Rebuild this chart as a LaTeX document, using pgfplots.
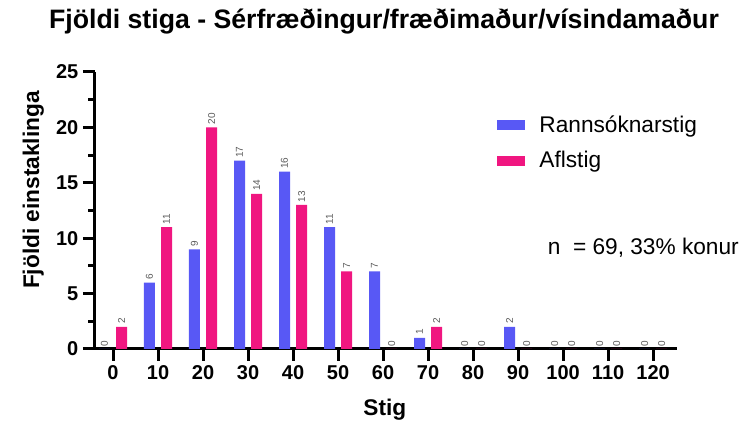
\documentclass[border=0pt]{standalone}
\usepackage{fontspec}
\setmainfont{Liberation Sans}
\usepackage{pgfplots}
\pgfplotsset{compat=1.18}
\definecolor{rblue}{RGB}{88,88,245}
\definecolor{apink}{RGB}{240,22,128}
\definecolor{vgray}{RGB}{90,90,90}
\begin{document}
\begin{tikzpicture}
\useasboundingbox (-71.25pt,-56.25pt) rectangle (486.75pt,261.75pt);
\begin{axis}[
  scale only axis, width=436.5pt, height=207.75pt,
  ybar=4.55pt, bar width=8.25pt,
  xmin=-4, xmax=125.3, ymin=0, ymax=25,
  axis lines*=left,
  axis line style={line width=2.25pt},
  xtick={0,10,...,120}, ytick={0,5,...,25}, minor y tick num=1,
  tick style={line width=2.25pt, black}, tick align=outside,
  major tick length=9pt, minor tick length=5pt,
  ticklabel style={font=\fontsize{15}{15}\selectfont\bfseries},
  /pgf/number format/assume math mode=true,
  title={Fjöldi stiga - Sérfræðingur/fræðimaður/vísindamaður},
  title style={at={(0.4966,1.152)}, anchor=center, font=\fontsize{20}{20}\selectfont\bfseries},
  xlabel={Stig}, ylabel={Fjöldi einstaklinga},
  label style={font=\fontsize{17}{17}\selectfont\bfseries},
  xlabel style={at={(0.498,-0.22)}, anchor=center},
  ylabel style={at={(-0.106,0.574)}, anchor=center},
  clip=false,
  legend style={at={(0.683,0.863)}, anchor=north west, draw=none, fill=none,
    font=\fontsize{17}{17}\selectfont, row sep=9pt},
  legend cell align=left,
  nodes near coords,
  nodes near coords style={rotate=90, anchor=west, font=\fontsize{7.5}{7.5}\selectfont, text=vgray, inner sep=2pt},
]
\addplot[fill=rblue, draw=none,
  legend image code/.code={\fill[rblue] (0pt,-3.75pt) rectangle (21pt,3.75pt); \path (30pt,0pt);}]
  coordinates {(0,0) (10,6) (20,9) (30,17) (40,16) (50,11) (60,7) (70,1) (80,0) (90,2) (100,0) (110,0) (120,0)};
\addlegendentry{Rannsóknarstig}
\addplot[fill=apink, draw=none,
  legend image code/.code={\fill[apink] (0pt,-3.75pt) rectangle (21pt,3.75pt); \path (30pt,0pt);}]
  coordinates {(0,2) (10,11) (20,20) (30,14) (40,13) (50,7) (60,0) (70,2) (80,0) (90,0) (100,0) (110,0) (120,0)};
\addlegendentry{Aflstig}
\node[anchor=west, font=\fontsize{17}{17}\selectfont] at (rel axis cs:0.770,0.365) {n\ \ = 69, 33\% konur};
\end{axis}
\end{tikzpicture}
\end{document}
